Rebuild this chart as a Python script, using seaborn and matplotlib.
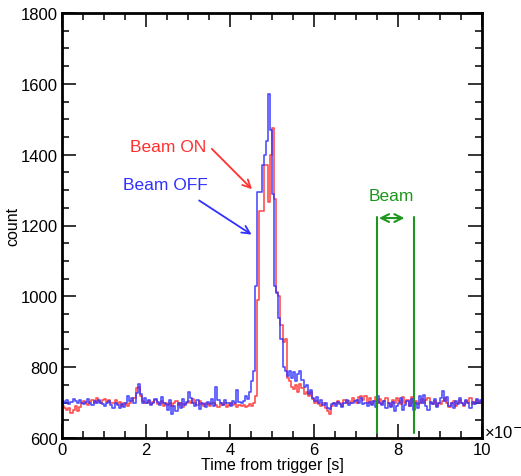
import numpy as np
import pandas as pd
import matplotlib
matplotlib.use("Agg")
import matplotlib.pyplot as plt
from matplotlib.ticker import MultipleLocator
import seaborn as sns

# ---- data (bin width 0.05 x10^-6 s) ----
bin_width = 0.05
beam_off = [
    705, 700, 708, 696, 702, 710, 704, 698, 706, 700,
    695, 702, 710, 700, 692, 705, 698, 708, 700, 696,
    690, 698, 705, 694, 686, 700, 692, 684, 695, 688,
    700, 718, 705, 712, 700, 728, 752, 725, 700, 712,
    698, 706, 694, 700, 710, 702, 692, 715, 700, 695,
    680, 706, 668, 690, 675, 700, 686, 710, 693, 702,
    730, 712, 700, 690, 706, 682, 700, 695, 688, 702,
    695, 710, 690, 744, 706, 700, 692, 708, 698, 700,
    690, 705, 700, 735, 702, 698, 704, 720, 710, 730,
    760, 790, 1030, 1295, 1295, 1370, 1400, 1440, 1570, 1470,
    1290, 1030, 1010, 940, 880, 800, 790, 775, 790, 770,
    785, 760, 780, 790, 765, 745, 750, 725, 735, 712,
    705, 715, 700, 708, 692, 700, 686, 682, 695, 700,
    690, 702, 696, 688, 700, 706, 694, 700, 698, 705,
    708, 700, 712, 696, 700, 690, 702, 694, 705, 688,
    718, 700, 692, 705, 684, 698, 688, 702, 676, 690,
    700, 712, 680, 694, 705, 690, 710, 678, 700, 686,
    718, 700, 722, 690, 680, 702, 695, 710, 688, 700,
    712, 732, 705, 715, 690, 700, 684, 705, 695, 712,
    700, 692, 708, 698, 686, 702, 695, 710, 700, 708,
]
beam_on = [
    690, 684, 678, 686, 672, 680, 690, 676, 688, 700,
    705, 698, 692, 702, 708, 700, 712, 704, 698, 706,
    710, 702, 706, 698, 700, 708, 695, 702, 690, 700,
    696, 690, 700, 705, 712, 740, 745, 720, 705, 700,
    700, 705, 695, 702, 708, 696, 700, 704, 690, 698,
    694, 700, 690, 698, 704, 692, 700, 688, 696, 700,
    705, 698, 710, 700, 692, 704, 695, 690, 700, 696,
    690, 698, 700, 694, 688, 700, 692, 698, 688, 694,
    700, 692, 696, 688, 694, 690, 692, 688, 690, 695,
    690, 700, 720, 990, 1240, 1240, 1370, 1370, 1266, 1400,
    1475, 1275, 1012, 1000, 920, 871, 880, 770, 760, 745,
    738, 750, 730, 752, 740, 725, 730, 718, 730, 710,
    700, 705, 695, 690, 700, 685, 676, 668, 690, 700,
    695, 705, 700, 690, 708, 698, 705, 700, 712, 705,
    700, 715, 720, 708, 718, 700, 712, 695, 705, 716,
    700, 710, 695, 705, 712, 700, 690, 708, 700, 712,
    705, 695, 715, 700, 708, 690, 716, 700, 705, 695,
    700, 710, 698, 706, 712, 700, 695, 705, 690, 700,
    695, 705, 712, 700, 688, 698, 704, 690, 700, 706,
    698, 690, 705, 700, 712, 696, 702, 708, 700, 705,
]
x_ticks = [0, 2, 4, 6, 8, 10]
y_ticks = [600, 800, 1000, 1200, 1400, 1600, 1800]
beam_window = [7.5, 8.38]

# ---- build tidy frame (step histogram: repeat last value at right edge) ----
n = len(beam_off)
edges = np.arange(n + 1) * bin_width
df = pd.concat([
    pd.DataFrame({"t": edges, "count": beam_on + [beam_on[-1]], "series": "Beam ON"}),
    pd.DataFrame({"t": edges, "count": beam_off + [beam_off[-1]], "series": "Beam OFF"}),
])

sns.set_style("ticks")
plt.rcParams["font.family"] = ["Liberation Sans", "DejaVu Sans"]
plt.rcParams["text.color"] = "black"
plt.rcParams["axes.labelcolor"] = "black"
plt.rcParams["xtick.color"] = "black"
plt.rcParams["ytick.color"] = "black"

red = "#ff3030"
blue = "#3030ff"
green = "#1e961e"

fig = plt.figure(figsize=(5.21, 4.77), dpi=100)
ax = fig.add_axes([62 / 521, 38 / 477, 420 / 521, 425 / 477])

sns.lineplot(data=df, x="t", y="count", hue="series", hue_order=["Beam ON", "Beam OFF"],
             palette={"Beam ON": red, "Beam OFF": blue}, estimator=None, sort=False,
             drawstyle="steps-post", linewidth=1.2, alpha=0.85, legend=False, ax=ax)

ax.set_xlim(0, 10)
ax.set_ylim(600, 1800)
ax.set_xticks(x_ticks)
ax.set_yticks(y_ticks)
ax.xaxis.set_minor_locator(MultipleLocator(0.5))
ax.yaxis.set_minor_locator(MultipleLocator(50))
ax.tick_params(which="both", direction="in", top=True, right=True, labelsize=12, width=1.1,
               color="black", labelcolor="black")
ax.tick_params(which="major", length=10, pad=3)
ax.tick_params(which="minor", length=5)
for s in ax.spines.values():
    s.set_linewidth(2)
    s.set_color("black")
ax.set_xlabel("Time from trigger [s]", fontsize=11.5, labelpad=0, color="black")
ax.set_ylabel("count", fontsize=11.5, labelpad=0, color="black")

# annotations
ax.text(2.52, 1424, "Beam ON", color=red, fontsize=12.5, ha="center", va="center")
ax.annotate("", xy=(4.57, 1297), xytext=(3.52, 1422),
            arrowprops=dict(arrowstyle="->", color=red, lw=1.3, mutation_scale=14))
ax.text(2.45, 1317, "Beam OFF", color=blue, fontsize=12.5, ha="center", va="center")
ax.annotate("", xy=(4.57, 1170), xytext=(3.21, 1275),
            arrowprops=dict(arrowstyle="->", color=blue, lw=1.3, mutation_scale=14))

for bx in beam_window:
    ax.plot([bx, bx], [614, 1224], color=green, lw=1.5)
ax.annotate("", xy=(8.22, 1221), xytext=(7.48, 1221),
            arrowprops=dict(arrowstyle="<->", color=green, lw=1.5, mutation_scale=14))
ax.text(7.85, 1285, "Beam", color=green, fontsize=12.5, ha="center", va="center")

fig.text(484 / 521, (477 - 432) / 477, "×10$^{-6}$", fontsize=12, ha="left", va="center")

fig.savefig("out.png", dpi=100)
